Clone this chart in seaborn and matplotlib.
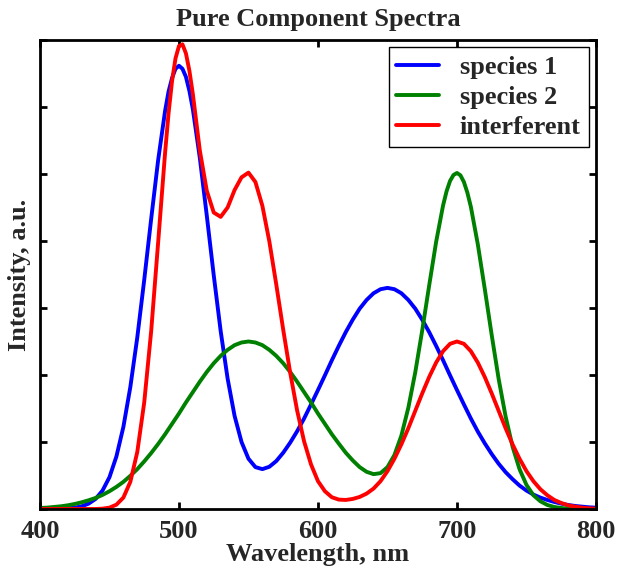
import matplotlib
matplotlib.use('Agg')
import pandas as pd
import matplotlib.pyplot as plt
import seaborn as sns

# Wavelength grid (nm), 5 nm steps
wavelength = list(range(400, 805, 5))

# Intensities (a.u.)
species1 = [0.000, 0.000, 0.0003, 0.0007, 0.002, 0.004, 0.008, 0.016, 0.030, 0.055,
            0.095, 0.157, 0.245, 0.364, 0.512, 0.684, 0.866, 1.041, 1.188, 1.286,
            1.323, 1.290, 1.193, 1.048, 0.876, 0.698, 0.531, 0.389, 0.278, 0.200,
            0.150, 0.125, 0.119, 0.126, 0.143, 0.168, 0.198, 0.232, 0.270, 0.312,
            0.355, 0.399, 0.444, 0.487, 0.528, 0.565, 0.598, 0.624, 0.644, 0.656,
            0.660, 0.656, 0.644, 0.624, 0.598, 0.565, 0.528, 0.487, 0.444, 0.399,
            0.355, 0.312, 0.270, 0.231, 0.196, 0.164, 0.135, 0.110, 0.089, 0.070,
            0.055, 0.043, 0.034, 0.027, 0.021, 0.016, 0.012, 0.009, 0.007, 0.005,
            0.004]
species2 = [0.003, 0.004, 0.006, 0.008, 0.011, 0.015, 0.020, 0.026, 0.033, 0.042,
            0.053, 0.066, 0.081, 0.099, 0.119, 0.142, 0.167, 0.194, 0.223, 0.254,
            0.285, 0.318, 0.349, 0.380, 0.409, 0.435, 0.457, 0.475, 0.489, 0.497,
            0.500, 0.497, 0.489, 0.475, 0.457, 0.435, 0.409, 0.380, 0.349, 0.318,
            0.285, 0.254, 0.223, 0.195, 0.168, 0.145, 0.125, 0.111, 0.104, 0.107,
            0.125, 0.161, 0.219, 0.302, 0.408, 0.533, 0.667, 0.797, 0.906, 0.979,
            1.003, 0.976, 0.902, 0.790, 0.657, 0.519, 0.388, 0.276, 0.186, 0.119,
            0.072, 0.041, 0.023, 0.012, 0.006, 0.003, 0.001, 0.001, 0.000, 0.000,
            0.000]
interferent = [0.000, 0.000, 0.000, 0.000, 0.000, 0.000, 0.000, 0.000, 0.000, 0.001,
               0.004, 0.013, 0.034, 0.081, 0.170, 0.318, 0.531, 0.795, 1.063, 1.277,
               1.382, 1.360, 1.238, 1.070, 0.950, 0.885, 0.872, 0.900, 0.952, 0.990,
               1.004, 0.976, 0.905, 0.799, 0.670, 0.535, 0.407, 0.294, 0.202, 0.133,
               0.083, 0.053, 0.035, 0.028, 0.027, 0.030, 0.036, 0.046, 0.061, 0.083,
               0.113, 0.150, 0.193, 0.241, 0.293, 0.345, 0.394, 0.437, 0.471, 0.493,
               0.500, 0.493, 0.471, 0.437, 0.394, 0.345, 0.293, 0.241, 0.193, 0.150,
               0.113, 0.083, 0.059, 0.041, 0.027, 0.018, 0.011, 0.007, 0.004, 0.002,
               0.001]

# extra readings around the sharp peaks
peak_wl_500 = [492.5, 497.5, 502.5, 507.5]
species1_peak = [1.246, 1.314, 1.314, 1.248]
interferent_peak = [1.181, 1.345, 1.387, 1.308]
peak_wl_700 = [692.5, 697.5, 702.5, 707.5]
species2_peak = [0.948, 0.997, 0.996, 0.944]

names = ['species 1', 'species 2', 'interferent']
colors = {'species 1': (0, 0, 1), 'species 2': (0, 0.5, 0), 'interferent': (1, 0, 0)}

parts = [
    (names[0], wavelength + peak_wl_500, species1 + species1_peak),
    (names[1], wavelength + peak_wl_700, species2 + species2_peak),
    (names[2], wavelength + peak_wl_500, interferent + interferent_peak),
]
df = pd.concat([pd.DataFrame({'Wavelength': wl, 'Intensity': val, 'Component': name})
                for name, wl, val in parts], ignore_index=True)

sns.set_style('white')
plt.rcParams['font.family'] = ['Liberation Serif', 'DejaVu Serif']
plt.rcParams['font.weight'] = 'bold'
plt.rcParams['font.size'] = 19

fig = plt.figure(figsize=(6.17, 5.71), dpi=100)
ax = fig.add_axes([0.0648, 0.1086, 0.9011, 0.8214])

sns.lineplot(data=df, x='Wavelength', y='Intensity', hue='Component', hue_order=names,
             palette=colors, linewidth=2.8, estimator=None, sort=True, ax=ax,
             solid_joinstyle='round', solid_capstyle='round')

ax.set_xlim(400, 800)
ax.set_ylim(0, 1.4)
ax.set_xticks([400, 500, 600, 700, 800])
ax.set_yticks([0, 0.2, 0.4, 0.6, 0.8, 1.0, 1.2, 1.4])
ax.set_yticklabels([])
ax.tick_params(direction='in', length=5, width=2, top=True, right=True,
               bottom=True, left=True, labelsize=19, pad=8, color='black')
for lab in ax.get_xticklabels():
    lab.set_fontweight('bold')
for sp in ax.spines.values():
    sp.set_linewidth(2)
    sp.set_color('black')

ax.set_xlabel('Wavelength, nm', fontsize=19, fontweight='bold', labelpad=0)
ax.set_ylabel('Intensity, a.u.', fontsize=19, fontweight='bold')
ax.yaxis.set_label_coords(-0.017, 0.5)
ax.set_title('Pure Component Spectra', fontsize=19, fontweight='bold', pad=10)

leg = ax.legend(loc='upper right', handlelength=1.6, labelspacing=0.25,
                borderaxespad=0.28, borderpad=0.3, handletextpad=0.8,
                fancybox=False, framealpha=1, edgecolor='black',
                prop={'size': 19, 'weight': 'bold'})
leg.get_frame().set_linewidth(1.0)

fig.savefig('out.png', dpi=100)
